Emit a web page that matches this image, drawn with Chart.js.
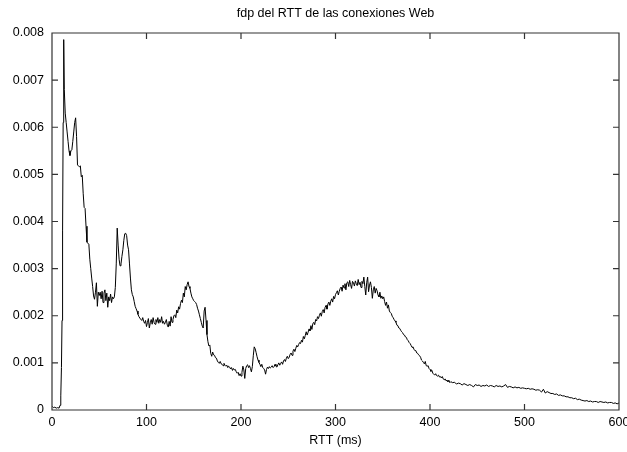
<!DOCTYPE html>
<html>
<head>
<meta charset="utf-8">
<title>fdp del RTT de las conexiones Web</title>
<script src="https://cdn.jsdelivr.net/npm/chart.js@4/dist/chart.umd.min.js"></script>
<style>
  html, body { margin: 0; padding: 0; background: #fff; }
  #wrap { width: 627px; height: 452px; }
</style>
</head>
<body>
<div id="wrap"><canvas id="c" width="627" height="452"></canvas></div>
<script>
// Estimated density of the RTT of web connections (ms -> probability density)

// Onset of the distribution, irregular sample positions
const onsetMs = [0, 1.5, 3, 4.5, 6, 7.5, 8.5, 9.3, 10, 10.6, 11.2, 11.8, 12.4];
const onsetDensity = [0.00008, 0.00005, 0.00006, 0.00004, 0.00005, 0.00004, 0.0001, 0.0003, 0.0009, 0.0019, 0.0038, 0.0061, 0.00786];

// Main body, one sample per millisecond starting at 13 ms
const bodyStartMs = 13;
const bodyStepMs = 1;
const bodyDensity = [
  0.0068, 0.0063, 0.0061, 0.0059, 0.0057, 0.0055, 0.0054, 0.0055, 0.00552, 0.0057,   // 13-22
  0.0059, 0.0061, 0.0062, 0.0058, 0.0052, 0.00518, 0.00516, 0.00518, 0.00495, 0.00498, // 23-32
  0.0046, 0.0043, 0.00428, 0.0039, 0.00356, 0.00354, 0.00352, 0.0032, 0.003, 0.0028,  // 33-42
  0.00262, 0.00242, 0.00235, 0.0025, 0.0027, 0.0022, 0.0025, 0.00243, 0.0025, 0.00236, // 43-52
  0.00252, 0.00228, 0.00248, 0.00255, 0.00232, 0.00248, 0.00218, 0.0024, 0.00232, 0.00246, // 53-62
  0.00228, 0.0024, 0.00236, 0.0024, 0.0026, 0.0031, 0.00386, 0.0035, 0.0032, 0.00306, // 63-72
  0.0031, 0.00326, 0.0034, 0.0036, 0.00374, 0.00375, 0.0037, 0.0035, 0.0034, 0.0031,  // 73-82
  0.0028, 0.00255, 0.00245, 0.0024, 0.0023, 0.0022, 0.00215, 0.0021, 0.00203, 0.00198, // 83-92
  0.00195, 0.00192, 0.0019, 0.00196, 0.00188, 0.00184, 0.0019, 0.00177, 0.00186, 0.00194, // 93-102
  0.00174, 0.00185, 0.00192, 0.00182, 0.00196, 0.00186, 0.00182, 0.00192, 0.00186, 0.00196, // 103-112
  0.00184, 0.00192, 0.00186, 0.00198, 0.00184, 0.00188, 0.00182, 0.00186, 0.00192, 0.0018, // 113-122
  0.00176, 0.00188, 0.00178, 0.00198, 0.00186, 0.00192, 0.002, 0.00202, 0.00196, 0.00212, // 123-132
  0.00206, 0.00219, 0.00214, 0.00226, 0.00233, 0.00228, 0.00248, 0.0024, 0.00262, 0.00255, // 133-142
  0.00266, 0.00272, 0.00262, 0.00258, 0.00248, 0.0024, 0.00236, 0.00232, 0.0023, 0.00228, // 143-152
  0.00224, 0.00216, 0.0021, 0.00202, 0.00194, 0.00186, 0.00178, 0.00174, 0.0021, 0.00218, // 153-162
  0.0019, 0.0016, 0.00145, 0.00136, 0.00138, 0.0012, 0.00114, 0.00123, 0.00117, 0.00116, // 163-172
  0.00111, 0.0011, 0.00104, 0.00101, 0.00099, 0.00103, 0.00098, 0.00097, 0.00094, 0.00099, // 173-182
  0.00095, 0.00093, 0.00095, 0.0009, 0.00093, 0.00091, 0.00087, 0.0009, 0.00084, 0.00088, // 183-192
  0.00085, 0.00086, 0.00081, 0.00078, 0.0008, 0.00073, 0.00077, 0.00072, 0.0008, 0.00093, // 193-202
  0.00085, 0.00067, 0.00088, 0.00094, 0.00096, 0.0009, 0.00094, 0.00088, 0.00081, 0.00092, // 203-212
  0.00115, 0.00134, 0.0013, 0.00122, 0.00113, 0.00106, 0.00101, 0.00097, 0.00092, 0.00097, // 213-222
  0.0009, 0.00088, 0.00085, 0.00076, 0.00086, 0.00091, 0.00088, 0.00092, 0.00089, 0.00091, // 223-232
  0.00094, 0.0009, 0.00092, 0.00097, 0.00093, 0.00091, 0.00096, 0.001, 0.00095, 0.00099,  // 233-242
  0.00102, 0.00097, 0.00104, 0.00107, 0.00103, 0.0011, 0.00114, 0.00109, 0.00112, 0.00118, // 243-252
  0.00121, 0.00116, 0.00125, 0.00129, 0.00124, 0.00131, 0.00137, 0.00134, 0.00139, 0.00143, // 253-262
  0.00141, 0.00148, 0.00144, 0.00156, 0.00151, 0.00158, 0.00166, 0.00159, 0.00165, 0.00172, // 263-272
  0.00168, 0.00179, 0.00171, 0.00183, 0.00186, 0.00181, 0.00192, 0.00189, 0.00198, 0.00194, // 273-282
  0.00201, 0.00206, 0.00199, 0.00209, 0.00213, 0.00206, 0.00218, 0.00222, 0.00214, 0.00225, // 283-292
  0.00229, 0.00222, 0.00231, 0.00236, 0.00229, 0.00241, 0.00236, 0.00245, 0.00249, 0.00253, // 293-302
  0.00244, 0.00252, 0.00258, 0.00261, 0.00252, 0.00265, 0.00259, 0.00268, 0.00255, 0.0027, // 303-312
  0.00272, 0.00262, 0.00275, 0.00266, 0.00258, 0.00273, 0.0027, 0.00263, 0.00274, 0.00268, // 313-322
  0.00264, 0.00277, 0.00266, 0.00271, 0.0026, 0.00273, 0.00268, 0.00282, 0.00262, 0.00244, // 323-332
  0.0027, 0.00282, 0.00251, 0.00265, 0.00272, 0.0026, 0.00237, 0.00255, 0.00262, 0.00248, // 333-342
  0.00258, 0.00253, 0.00244, 0.0024, 0.0025, 0.00237, 0.00242, 0.00236, 0.0024, 0.0023,  // 343-352
  0.00222, 0.00229, 0.00216, 0.00223, 0.0021, 0.00207, 0.00205, 0.00199, 0.00196, 0.00192, // 353-362
  0.00189, 0.00186, 0.0018, 0.00179, 0.00174, 0.00173, 0.00169, 0.00166, 0.00164, 0.0016, // 363-372
  0.00159, 0.00155, 0.00154, 0.00149, 0.00147, 0.00143, 0.00141, 0.00137, 0.00133, 0.00134, // 373-382
  0.00129, 0.00126, 0.00126, 0.00121, 0.0012, 0.00117, 0.00115, 0.00112, 0.00106, 0.00104, // 383-392
  0.00101, 0.00098, 0.00103, 0.00094, 0.00093, 0.00094, 0.00088, 0.00086, 0.00082, 0.00084, // 393-402
  0.00078, 0.00076, 0.00074, 0.00077, 0.00073, 0.00072, 0.00074, 0.0007, 0.00071, 0.00068, // 403-412
  0.00071, 0.00066, 0.00064, 0.00066, 0.00062, 0.00063, 0.0006, 0.00063, 0.00058           // 413-421
];

// Long tail, one sample every 2 ms starting at 422 ms
const tailStartMs = 422;
const tailStepMs = 2;
const tailDensity = [
  0.0006, 0.00058, 0.00059, 0.00055, 0.00057, 0.00056, 0.00053, 0.00056, 0.00054, 0.00052,  // 422-440
  0.00054, 0.00052, 0.00049, 0.00054, 0.00052, 0.00053, 0.0005, 0.00052, 0.00051, 0.00053,  // 442-460
  0.0005, 0.00052, 0.00051, 0.00049, 0.00052, 0.0005, 0.00051, 0.00049, 0.00051, 0.00054,   // 462-480
  0.00048, 0.0005, 0.00049, 0.00047, 0.00049, 0.00047, 0.00048, 0.00046, 0.00047, 0.00046,  // 482-500
  0.00045, 0.00046, 0.00044, 0.00045, 0.00044, 0.00042, 0.00043, 0.00042, 0.00038, 0.00044, // 502-520
  0.00036, 0.00039, 0.00037, 0.00035, 0.00035, 0.00033, 0.00034, 0.00031, 0.00032, 0.0003,  // 522-540
  0.0003, 0.00028, 0.00028, 0.00026, 0.00026, 0.00024, 0.00025, 0.00022, 0.00023, 0.00021,  // 542-560
  0.0002, 0.00019, 0.0002, 0.00018, 0.00019, 0.00017, 0.00018, 0.00018, 0.00016, 0.00018,   // 562-580
  0.00017, 0.00016, 0.00017, 0.00015, 0.00016, 0.00016, 0.00014, 0.00015, 0.00013, 0.00015  // 582-600
];

// Axis ticks
const xTicks = [0, 100, 200, 300, 400, 500, 600];
const yTicks = [0, 0.001, 0.002, 0.003, 0.004, 0.005, 0.006, 0.007, 0.008];

const chartTitle = 'fdp del RTT de las conexiones Web';
const xAxisTitle = 'RTT (ms)';

const points = [];
onsetMs.forEach((ms, i) => points.push({ x: ms, y: onsetDensity[i] }));
bodyDensity.forEach((d, i) => points.push({ x: bodyStartMs + i * bodyStepMs, y: d }));
tailDensity.forEach((d, i) => points.push({ x: tailStartMs + i * tailStepMs, y: d }));

const FONT = '"Liberation Sans", Arial, Helvetica, sans-serif';
const FONT_SIZE = 12.5;
const TICK_LEN = 6;

// Closed frame with inward tick marks on all four sides, title centred over the plot
const framePlugin = {
  id: 'frame',
  afterDraw(chart) {
    const { ctx, chartArea: a, scales } = chart;
    ctx.save();
    ctx.strokeStyle = '#333';
    ctx.lineWidth = 1.2;
    ctx.beginPath();
    ctx.rect(a.left, a.top, a.right - a.left, a.bottom - a.top);
    xTicks.forEach(v => {
      const px = scales.x.getPixelForValue(v);
      ctx.moveTo(px, a.bottom); ctx.lineTo(px, a.bottom - TICK_LEN);
      ctx.moveTo(px, a.top); ctx.lineTo(px, a.top + TICK_LEN);
    });
    yTicks.forEach(v => {
      const py = scales.y.getPixelForValue(v);
      ctx.moveTo(a.left, py); ctx.lineTo(a.left + TICK_LEN, py);
      ctx.moveTo(a.right, py); ctx.lineTo(a.right - TICK_LEN, py);
    });
    ctx.stroke();

    ctx.fillStyle = '#000';
    ctx.font = FONT_SIZE + 'px ' + FONT;
    ctx.textAlign = 'center';
    ctx.textBaseline = 'middle';
    ctx.fillText(chartTitle, (a.left + a.right) / 2, 14);
    ctx.restore();
  }
};

new Chart(document.getElementById('c'), {
  type: 'line',
  data: {
    datasets: [{
      data: points,
      borderColor: '#000',
      borderWidth: 1,
      pointRadius: 0,
      tension: 0,
      fill: false
    }]
  },
  options: {
    responsive: false,
    devicePixelRatio: 1,
    animation: false,
    layout: { padding: { left: 0, right: 8, top: 33, bottom: 0 } },
    plugins: {
      legend: { display: false },
      tooltip: { enabled: false },
      title: { display: false }
    },
    scales: {
      x: {
        type: 'linear',
        min: 0,
        max: 600,
        afterBuildTicks: s => { s.ticks = xTicks.map(v => ({ value: v })); },
        afterFit: s => { s.height = 42; s.paddingLeft = 0; s.paddingRight = 0; },
        grid: { display: false, drawTicks: false },
        border: { display: false },
        ticks: {
          color: '#000',
          font: { family: FONT, size: FONT_SIZE },
          padding: 5,
          maxRotation: 0,
          autoSkip: false,
          callback: v => String(v)
        },
        title: {
          display: true,
          text: xAxisTitle,
          color: '#000',
          font: { family: FONT, size: FONT_SIZE },
          padding: { top: 0, bottom: 4 }
        }
      },
      y: {
        min: 0,
        max: 0.008,
        afterBuildTicks: s => { s.ticks = yTicks.map(v => ({ value: v })); },
        afterFit: s => { s.width = 52; s.paddingTop = 0; s.paddingBottom = 0; },
        grid: { display: false, drawTicks: false },
        border: { display: false },
        ticks: {
          color: '#000',
          font: { family: FONT, size: FONT_SIZE },
          padding: 8,
          autoSkip: false,
          callback: v => (v === 0 ? '0' : v.toFixed(3))
        }
      }
    }
  },
  plugins: [framePlugin]
});
</script>
</body>
</html>
